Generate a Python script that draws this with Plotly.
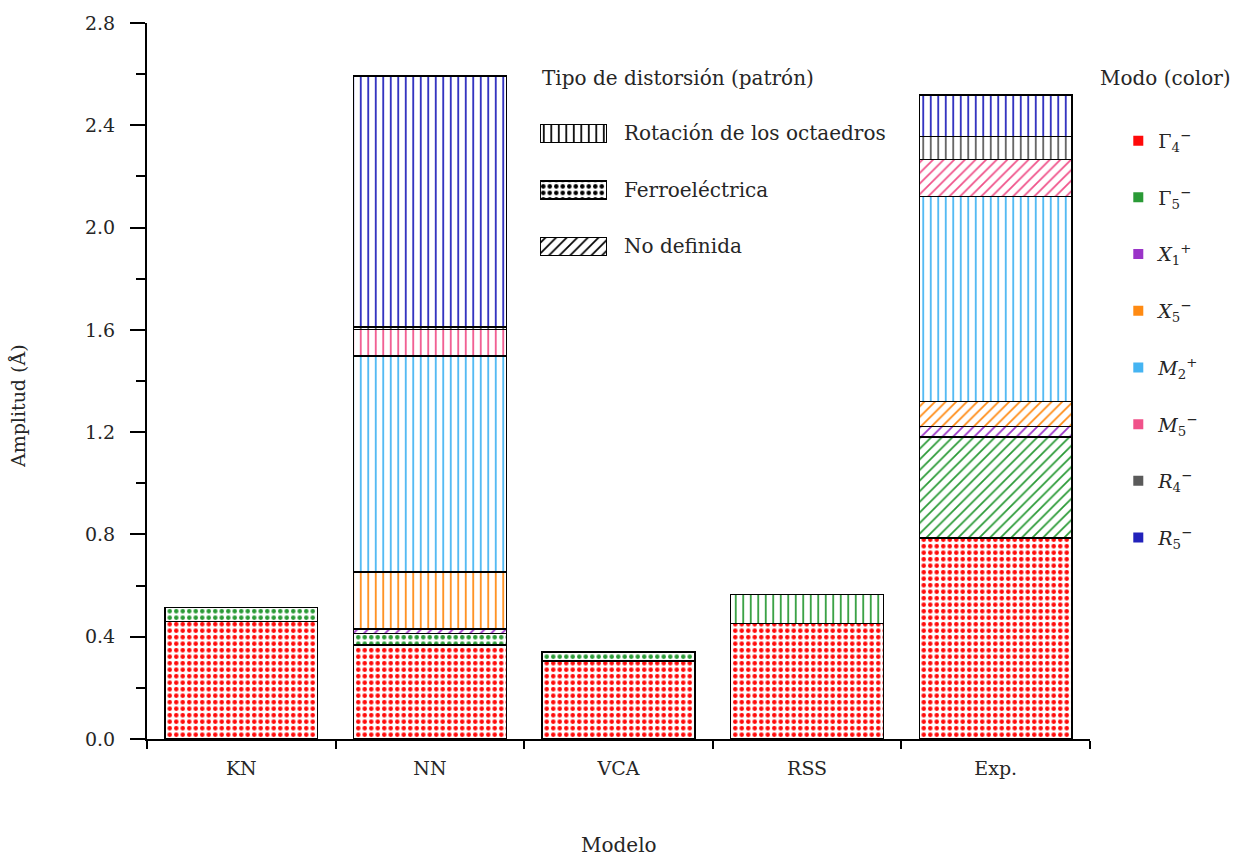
import plotly.graph_objects as go

# Models on the x axis
models = ["KN", "NN", "VCA", "RSS", "Exp."]

# Mode amplitudes (Å) per model, stacked bottom to top
gamma4m = [0.459, 0.367, 0.306, 0.451, 0.787]
gamma5m = [0.055, 0.045, 0.035, 0.115, 0.394]
x1p = [None, 0.018, None, None, 0.041]
x5m = [None, 0.224, None, None, 0.097]
m2p = [None, 0.844, None, None, 0.803]
m5m = [None, 0.104, None, None, 0.144]
r4m = [None, 0.010, None, None, 0.091]
r5m = [None, 0.981, None, None, 0.161]

# Distortion type of each bar segment: rot = octahedral rotation,
# fe = ferroelectric, nd = not defined
gamma4m_type = ["fe", "fe", "fe", "fe", "fe"]
gamma5m_type = ["fe", "fe", "fe", "rot", "nd"]
x1p_type = [None, "nd", None, None, "nd"]
x5m_type = [None, "rot", None, None, "nd"]
m2p_type = [None, "rot", None, None, "rot"]
m5m_type = [None, "rot", None, None, "nd"]
r4m_type = [None, "rot", None, None, "rot"]
r5m_type = [None, "rot", None, None, "rot"]

mode_names = [
    "Γ<sub>4</sub><sup>−</sup>",
    "Γ<sub>5</sub><sup>−</sup>",
    "<i>X</i><sub>1</sub><sup>+</sup>",
    "<i>X</i><sub>5</sub><sup>−</sup>",
    "<i>M</i><sub>2</sub><sup>+</sup>",
    "<i>M</i><sub>5</sub><sup>−</sup>",
    "<i>R</i><sub>4</sub><sup>−</sup>",
    "<i>R</i><sub>5</sub><sup>−</sup>",
]
mode_colors = ["#ff0a0a", "#2a9a36", "#9a34c8", "#ff8a12",
               "#45b4f2", "#f0528a", "#5a5a5a", "#2222bb"]
mode_values = [gamma4m, gamma5m, x1p, x5m, m2p, m5m, r4m, r5m]
mode_types = [gamma4m_type, gamma5m_type, x1p_type, x5m_type,
              m2p_type, m5m_type, r4m_type, r5m_type]

# Distortion legend entries
dist_keys = ["rot", "fe", "nd"]
dist_labels = ["Rotación de los octaedros", "Ferroeléctrica", "No definida"]

# Fill pattern per distortion type
PATTERN = {
    "rot": dict(shape="|", size=7.5, solidity=0.23),
    "fe": dict(shape=".", size=6.5, solidity=0.38),
    "nd": dict(shape="/", size=7.5, solidity=0.23),
}

FONT = "DejaVu Serif"
TXT = "#262626"

fig = go.Figure()

for name, color, vals, types in zip(mode_names, mode_colors, mode_values, mode_types):
    shapes = [PATTERN[t]["shape"] if t else "" for t in types]
    sizes = [PATTERN[t]["size"] if t else 8 for t in types]
    solid = [PATTERN[t]["solidity"] if t else 0.3 for t in types]
    fig.add_trace(go.Bar(
        x=models, y=vals, name=name, showlegend=False,
        marker=dict(
            color="white",
            line=dict(color="black", width=1.5),
            pattern=dict(shape=shapes, size=sizes, solidity=solid,
                         fgcolor=color, bgcolor="white", fgopacity=1,
                         fillmode="replace"),
        ),
    ))

# Colour legend for the modes
for name, color in zip(mode_names, mode_colors):
    fig.add_trace(go.Scatter(
        x=[models[0]], y=[None], mode="markers", name=name,
        marker=dict(symbol="square", size=10, color=color),
        legend="legend2", legendgroup=name,
    ))

# Pattern legend for the distortion types, drawn as swatch bars on an inset axis
fig.add_trace(go.Bar(
    x=[1] * len(dist_labels), y=dist_labels, orientation="h",
    xaxis="x2", yaxis="y2", width=0.32, showlegend=False,
    marker=dict(
        color="white",
        line=dict(color="black", width=1.5),
        pattern=dict(shape=[PATTERN[k]["shape"] for k in dist_keys],
                     size=[PATTERN[k]["size"] for k in dist_keys],
                     solidity=[PATTERN[k]["solidity"] for k in dist_keys],
                     fgcolor="black", bgcolor="white", fgopacity=1,
                     fillmode="replace"),
    ),
    hoverinfo="skip",
))

fig.update_layout(
    width=1239, height=859,
    margin=dict(l=147, r=149, t=20, b=120),
    paper_bgcolor="white", plot_bgcolor="white",
    barmode="stack", bargap=0.19,
    font=dict(family=FONT, size=19, color=TXT),
    showlegend=True,
    legend2=dict(
        x=1.03, y=0.862, xanchor="left", yanchor="top",
        bgcolor="rgba(0,0,0,0)", tracegroupgap=29,
        font=dict(family=FONT, size=19, color=TXT),
    ),
    xaxis=dict(
        type="category", range=[-0.5, 4.5],
        showline=True, linecolor="black", linewidth=2,
        ticks="outside", tickson="boundaries", ticklen=8, tickwidth=1.5,
        tickcolor="black", ticklabelstandoff=11,
        showgrid=False, zeroline=False,
        tickfont=dict(family=FONT, size=19, color=TXT),
    ),
    yaxis=dict(
        range=[0, 2.8], dtick=0.4, tickformat=".1f",
        showline=True, linecolor="black", linewidth=2,
        ticks="outside", ticklen=15, tickwidth=1.5, tickcolor="black",
        ticklabelstandoff=11,
        minor=dict(dtick=0.2, ticks="outside", ticklen=9, tickwidth=1.5,
                   tickcolor="black"),
        showgrid=False, zeroline=False,
        tickfont=dict(family=FONT, size=19, color=TXT),
    ),
    xaxis2=dict(
        domain=[0.4168, 0.4878], anchor="y2", range=[0, 1],
        visible=False, fixedrange=True,
    ),
    yaxis2=dict(
        domain=[0.6486, 0.8852], anchor="x2", type="category",
        autorange="reversed", side="right",
        showline=False, showgrid=False, zeroline=False, ticks="",
        ticklabelstandoff=16, fixedrange=True,
        tickfont=dict(family=FONT, size=20, color=TXT),
    ),
    annotations=[
        dict(text="Tipo de distorsión (patrón)", xref="paper", yref="paper",
             x=0.4168, y=0.9234, xanchor="left", yanchor="middle",
             showarrow=False, font=dict(family=FONT, size=20, color=TXT)),
        dict(text="Modo (color)", xref="paper", yref="paper",
             x=1.0085, y=0.9234, xanchor="left", yanchor="middle",
             showarrow=False, font=dict(family=FONT, size=20, color=TXT)),
        dict(text="Amplitud (Å)", xref="paper", yref="paper",
             x=-0.1368, y=0.465, xanchor="center", yanchor="middle",
             textangle=-90, showarrow=False,
             font=dict(family=FONT, size=19, color=TXT)),
        dict(text="Modelo", xref="paper", yref="paper",
             x=0.5, y=-0.148, xanchor="center", yanchor="middle",
             showarrow=False, font=dict(family=FONT, size=20, color=TXT)),
    ],
)

fig.write_html("out.html")
